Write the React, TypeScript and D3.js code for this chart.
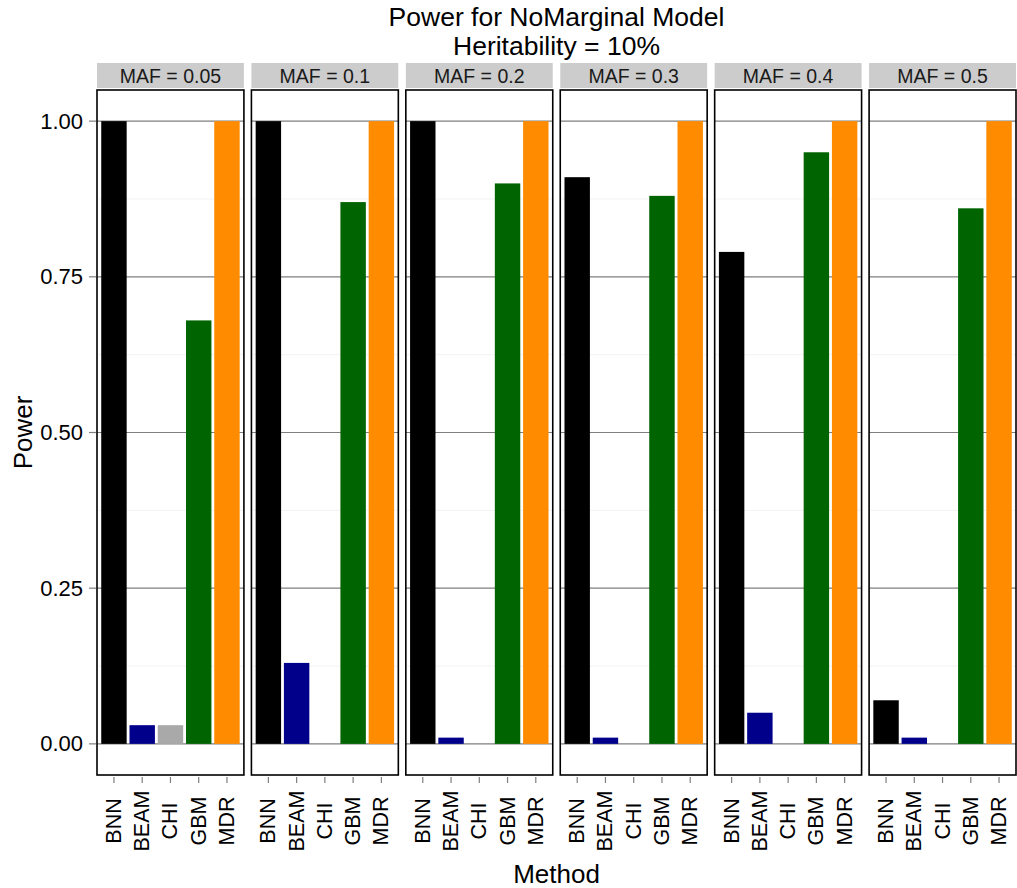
import React from 'react'
import * as d3 from 'd3'

const methods = ['BNN', 'BEAM', 'CHI', 'GBM', 'MDR']
const mafs = ['0.05', '0.1', '0.2', '0.3', '0.4', '0.5']
const colors = ['#000000', '#00008B', '#A9A9A9', '#006400', '#FF8C00']

// power per MAF panel, in method order
const bnn = [1.0, 1.0, 1.0, 0.91, 0.79, 0.07]
const beam = [0.03, 0.13, 0.01, 0.01, 0.05, 0.01]
const chi = [0.03, 0, 0, 0, 0, 0]
const gbm = [0.68, 0.87, 0.9, 0.88, 0.95, 0.86]
const mdr = [1.0, 1.0, 1.0, 1.0, 1.0, 1.0]
const series = [bnn, beam, chi, gbm, mdr]

const yTicks = [0, 0.25, 0.5, 0.75, 1.0]
const yMinor = [0.125, 0.375, 0.625, 0.875]

const W = 1017
const H = 888
const font = '"Liberation Sans", Arial, Helvetica, sans-serif'

const App = () => {
  const panelTop = 90
  const panelBottom = 775
  const stripTop = 63

  const facet = d3
    .scaleBand()
    .domain(mafs)
    .range([97, 1016])
    .paddingInner(0.0486)
    .paddingOuter(0)

  const y = d3.scaleLinear().domain([-0.05, 1.05]).range([panelBottom, panelTop])

  const x = d3
    .scaleBand()
    .domain(methods)
    .range([0, facet.bandwidth()])
    .paddingInner(0.1)
    .paddingOuter(0.15)

  const pw = facet.bandwidth()
  const midX = (97 + 1016) / 2

  return (
    <svg
      width={W}
      height={H}
      style={{ display: 'block', position: 'fixed', left: 0, top: 0 }}
      fontFamily={font}
    >
      <rect width={W} height={H} fill="#ffffff" />
      <text x={midX} y={26} textAnchor="middle" fontSize={26.5}>
        Power for NoMarginal Model
      </text>
      <text x={midX} y={55} textAnchor="middle" fontSize={26.5}>
        Heritability = 10%
      </text>

      {mafs.map((m, i) => {
        const px = facet(m)
        return (
          <g key={m} transform={`translate(${px},0)`}>
            <rect x={0} y={stripTop} width={pw} height={panelTop - 2 - stripTop} fill="#CCCCCC" />
            <text
              x={pw / 2}
              y={(stripTop + panelTop - 2) / 2}
              textAnchor="middle"
              dominantBaseline="central"
              fontSize={19.5}
              fill="#1a1a1a"
            >
              {`MAF = ${m}`}
            </text>
            <rect x={0} y={panelTop} width={pw} height={panelBottom - panelTop} fill="#ffffff" />
            {yMinor.map((t) => (
              <line key={t} x1={0} x2={pw} y1={y(t)} y2={y(t)} stroke="#F2F2F2" strokeWidth={1} />
            ))}
            {yTicks.map((t) => (
              <line key={t} x1={0} x2={pw} y1={y(t)} y2={y(t)} stroke="#7F7F7F" strokeWidth={1.2} />
            ))}
            {methods.map((meth, j) => {
              const v = series[j][i]
              return (
                <rect
                  key={meth}
                  x={x(meth)}
                  width={x.bandwidth()}
                  y={y(v)}
                  height={y(0) - y(v)}
                  fill={colors[j]}
                />
              )
            })}
            <rect
              x={0}
              y={panelTop}
              width={pw}
              height={panelBottom - panelTop}
              fill="none"
              stroke="#000000"
              strokeWidth={1.6}
            />
            {methods.map((meth) => {
              const cx = x(meth) + x.bandwidth() / 2
              return (
                <g key={meth}>
                  <line x1={cx} x2={cx} y1={panelBottom + 2} y2={panelBottom + 8} stroke="#7F7F7F" strokeWidth={1.2} />
                  <text
                    transform={`translate(${cx},821) rotate(-90)`}
                    textAnchor="middle"
                    dominantBaseline="central"
                    fontSize={21.5}
                  >
                    {meth}
                  </text>
                </g>
              )
            })}
          </g>
        )
      })}

      {yTicks.map((t) => (
        <g key={t}>
          <line x1={89} x2={96} y1={y(t)} y2={y(t)} stroke="#7F7F7F" strokeWidth={1.2} />
          <text x={83} y={y(t)} textAnchor="end" dominantBaseline="central" fontSize={22}>
            {t.toFixed(2)}
          </text>
        </g>
      ))}

      <text
        transform={`translate(32,${(panelTop + panelBottom) / 2}) rotate(-90)`}
        textAnchor="middle"
        fontSize={26}
      >
        Power
      </text>
      <text x={midX} y={883} textAnchor="middle" fontSize={26}>
        Method
      </text>
    </svg>
  )
}

export default App
